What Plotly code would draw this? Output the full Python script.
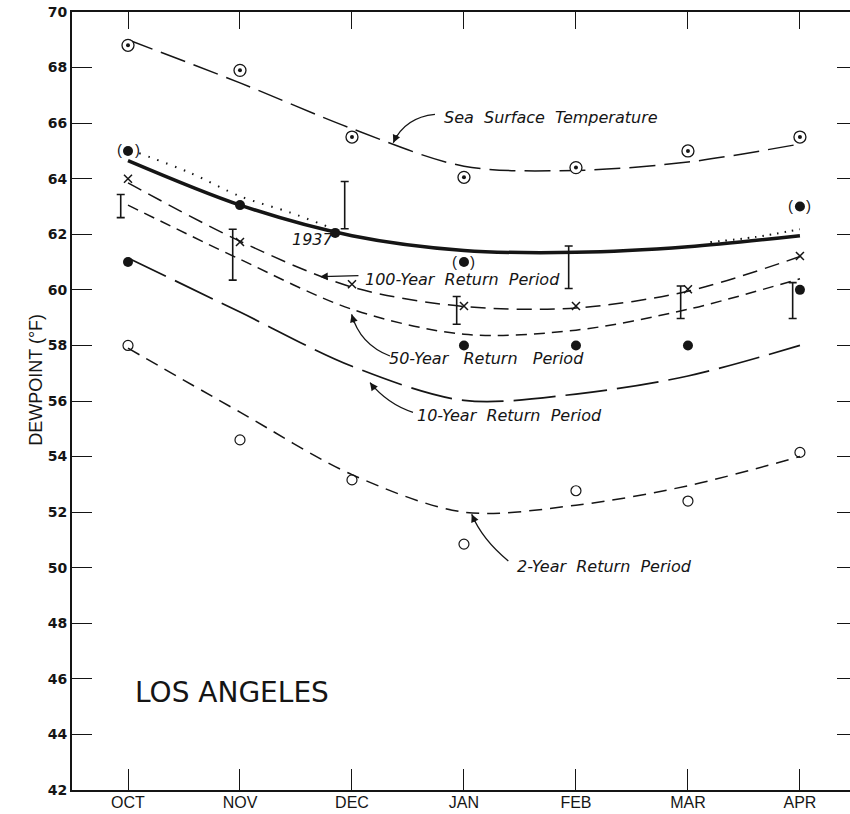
import plotly.graph_objects as go

# ---- data -------------------------------------------------------------
months = ["OCT", "NOV", "DEC", "JAN", "FEB", "MAR", "APR"]
month_pos = [0, 1, 2, 3, 4, 5, 6]
y_ticks = list(range(42, 71, 2))

# sea surface temperature (deg F): monthly observations and smoothed curve
sst_obs = [68.8, 67.9, 65.5, 64.05, 64.4, 65.0, 65.5]
sst_curve = [69.0, 67.45, 65.8, 64.45, 64.3, 64.6, 65.25]

# envelope of maximum persisting dewpoints (heavy solid) and dotted alternative
envelope_curve = [64.65, 63.05, 61.95, 61.42, 61.35, 61.55, 61.95]
dotted_pos_a = [0.1, 0.55, 1.0, 1.45, 1.8]
dotted_a = [64.92, 64.22, 63.37, 62.78, 62.25]
dotted_pos_b = [5.2, 5.6, 6.0]
dotted_b = [61.72, 61.9, 62.18]

# return-period curves
rp100_curve = [63.85, 61.75, 60.1, 59.4, 59.35, 59.95, 61.2]
rp100_pts = [64.0, 61.72, 60.2, 59.42, 59.42, 60.02, 61.22]
rp50_curve = [63.05, 61.1, 59.3, 58.4, 58.55, 59.3, 60.4]
rp10_curve = [61.15, 59.2, 57.25, 56.02, 56.25, 56.9, 58.0]
rp2_curve = [57.9, 55.6, 53.35, 52.0, 52.25, 52.95, 54.0]
rp2_obs = [58.0, 54.6, 53.16, 50.85, 52.77, 52.4, 54.15]

# observed maximum dewpoints
obs_pos = [0, 1, 1.85, 3, 4, 5, 6]
obs_max = [61.0, 63.05, 62.05, 58.0, 58.0, 58.0, 60.0]
paren_pos = [0, 3, 6]
paren_val = [65.0, 61.0, 63.0]

# range bars
bar_lo = [62.6, 60.35, 62.2, 58.76, 60.05, 58.97, 58.97]
bar_hi = [63.43, 62.18, 63.9, 59.76, 61.58, 60.14, 60.26]

# ---- figure -------------------------------------------------------------
INK = "#151515"
fig = go.Figure()


def curve(xs, ys, dash, width=1.5):
    fig.add_trace(go.Scatter(
        x=xs, y=ys, mode="lines",
        line=dict(color=INK, width=width, dash=dash, shape="spline", smoothing=0.9),
        hoverinfo="skip", showlegend=False))


curve(month_pos, sst_curve, "26px,9px")
curve(month_pos, envelope_curve, "solid", 3.5)
curve(dotted_pos_a, dotted_a, "1.5px,8px", 2)
curve(dotted_pos_b, dotted_b, "1.5px,6px", 2)
curve(month_pos, rp100_curve, "15px,8px")
curve(month_pos, rp50_curve, "11px,7px")
curve(month_pos, rp10_curve, "42px,10px", 1.7)
curve(month_pos, rp2_curve, "13px,8px")

# sea surface temperature: circle with centre dot
fig.add_trace(go.Scatter(x=month_pos, y=sst_obs, mode="markers",
                         marker=dict(symbol="circle", size=12, color="white",
                                     line=dict(color=INK, width=1.3)),
                         hoverinfo="skip", showlegend=False))
fig.add_trace(go.Scatter(x=month_pos, y=sst_obs, mode="markers",
                         marker=dict(symbol="circle", size=4, color=INK),
                         hoverinfo="skip", showlegend=False))

# 100-year points
fig.add_trace(go.Scatter(x=month_pos, y=rp100_pts, mode="markers",
                         marker=dict(symbol="x-thin", size=8, color=INK,
                                     line=dict(color=INK, width=1.5)),
                         hoverinfo="skip", showlegend=False))

# 2-year points
fig.add_trace(go.Scatter(x=month_pos, y=rp2_obs, mode="markers",
                         marker=dict(symbol="circle-open", size=10, color=INK,
                                     line=dict(color=INK, width=1.2)),
                         hoverinfo="skip", showlegend=False))

# observed maxima
fig.add_trace(go.Scatter(x=obs_pos + paren_pos, y=obs_max + paren_val, mode="markers",
                         marker=dict(symbol="circle", size=10, color=INK),
                         hoverinfo="skip", showlegend=False))
for px_, pv in zip(paren_pos, paren_val):
    for ch, shift in (("(", -9), (")", 9)):
        fig.add_annotation(x=px_, y=pv, text=ch, showarrow=False, xshift=shift,
                           yshift=1,
                           font=dict(family="Liberation Sans", size=15, color=INK))

# range bars, drawn just left of each month
BAR_SHIFT = -0.065
fig.add_trace(go.Scatter(
    x=[p + BAR_SHIFT for p in month_pos],
    y=[(lo + hi) / 2 for lo, hi in zip(bar_lo, bar_hi)],
    mode="markers", marker=dict(size=1, opacity=0),
    error_y=dict(type="data", symmetric=True,
                 array=[(hi - lo) / 2 for lo, hi in zip(bar_lo, bar_hi)],
                 color=INK, thickness=1.6, width=4),
    hoverinfo="skip", showlegend=False))

# ---- labels and arrows ---------------------------------------------------
label_font = dict(family="DejaVu Sans", size=16, color=INK, style="italic")
SP2 = "\u00a0\u00a0"


def label(text, x, y, font=label_font):
    fig.add_annotation(x=x, y=y, text=text, showarrow=False,
                       xanchor="left", yanchor="middle", font=font)


label("Sea" + SP2 + "Surface" + SP2 + "Temperature", 2.80, 66.2)
label("100-Year" + SP2 + "Return" + SP2 + "Period", 2.098, 60.38)
label("50-Year\u00a0\u00a0\u00a0Return\u00a0\u00a0\u00a0Period", 2.313, 57.54)
label("10-Year" + SP2 + "Return" + SP2 + "Period", 2.563, 55.49)
label("2-Year" + SP2 + "Return" + SP2 + "Period", 3.455, 50.05)
label("1937", 1.446, 61.82)
label("LOS\u00a0ANGELES", 0.045, 45.52,
      font=dict(family="DejaVu Sans", size=28, color=INK))

# curved leader lines: (tail, control, tip) and arrow-head offset in px
leaders = [
    ((2.741, 66.313), (2.473, 66.205), (2.369, 65.295), (4, -9)),
    ((2.339, 57.619), (2.071, 58.04), (1.997, 59.119), (3, 10)),
    ((2.545, 55.594), (2.321, 55.882), (2.161, 56.662), (6, 8)),
    ((3.396, 50.245), (3.161, 51.025), (3.069, 51.924), (4, 9)),
]
for (tx, ty), (cx, cy), (hx, hy), (ax, ay) in leaders:
    fig.add_shape(type="path", xref="x", yref="y",
                  path=f"M {tx},{ty} Q {cx},{cy} {hx},{hy}",
                  line=dict(color=INK, width=1.3))
    fig.add_annotation(x=hx, y=hy, ax=ax, ay=ay, text="", showarrow=True,
                       arrowhead=2, arrowsize=1.2, arrowwidth=1.3,
                       arrowcolor=INK)

# straight pointer to the 100-year curve
fig.add_annotation(x=1.714, y=60.475, ax=40, ay=-1, text="", showarrow=True,
                   arrowhead=2, arrowsize=1.2, arrowwidth=1.3, arrowcolor=INK)

# axis title
fig.add_annotation(xref="paper", yref="paper", x=-0.062, y=0.527,
                   text="DEWPOINT (\u00b0F)", textangle=-90, showarrow=False,
                   font=dict(family="Liberation Sans Narrow, Liberation Sans",
                             size=18, color=INK))

# ---- axes ---------------------------------------------------------------
X_RANGE = [-0.5, 6.447]
Y_RANGE = [42, 70]

fig.update_layout(
    width=850, height=814,
    margin=dict(l=72, r=0, t=12, b=24, autoexpand=False),
    paper_bgcolor="white", plot_bgcolor="white",
    xaxis=dict(range=X_RANGE, tickvals=month_pos, ticktext=months,
               ticks="inside", ticklen=21, tickwidth=1.3, tickcolor=INK,
               showline=True, linecolor=INK, linewidth=2,
               showgrid=False, zeroline=False, ticklabelstandoff=-3,
               tickfont=dict(family="Liberation Sans Narrow, Liberation Sans",
                             size=16, color=INK)),
    xaxis2=dict(range=X_RANGE, overlaying="x", side="top", tickvals=month_pos,
                ticks="inside", ticklen=17, tickwidth=1.3, tickcolor=INK,
                showticklabels=False, showline=True, linecolor=INK, linewidth=2,
                showgrid=False, zeroline=False),
    yaxis=dict(range=Y_RANGE, tickvals=y_ticks,
               ticks="inside", ticklen=20, tickwidth=1.3, tickcolor=INK,
               showline=True, linecolor=INK, linewidth=2,
               showgrid=False, zeroline=False,
               tickfont=dict(family="DejaVu Sans", size=14, color=INK, weight="bold")),
    yaxis2=dict(range=Y_RANGE, overlaying="y", side="right", tickvals=y_ticks,
                ticks="inside", ticklen=13, tickwidth=1.3, tickcolor=INK,
                showticklabels=False, showline=False,
                showgrid=False, zeroline=False),
)

# dummy traces so the secondary axes are drawn
fig.add_trace(go.Scatter(x=[None], y=[None], xaxis="x2", yaxis="y2",
                         showlegend=False, hoverinfo="skip"))

fig.write_html("out.html")
